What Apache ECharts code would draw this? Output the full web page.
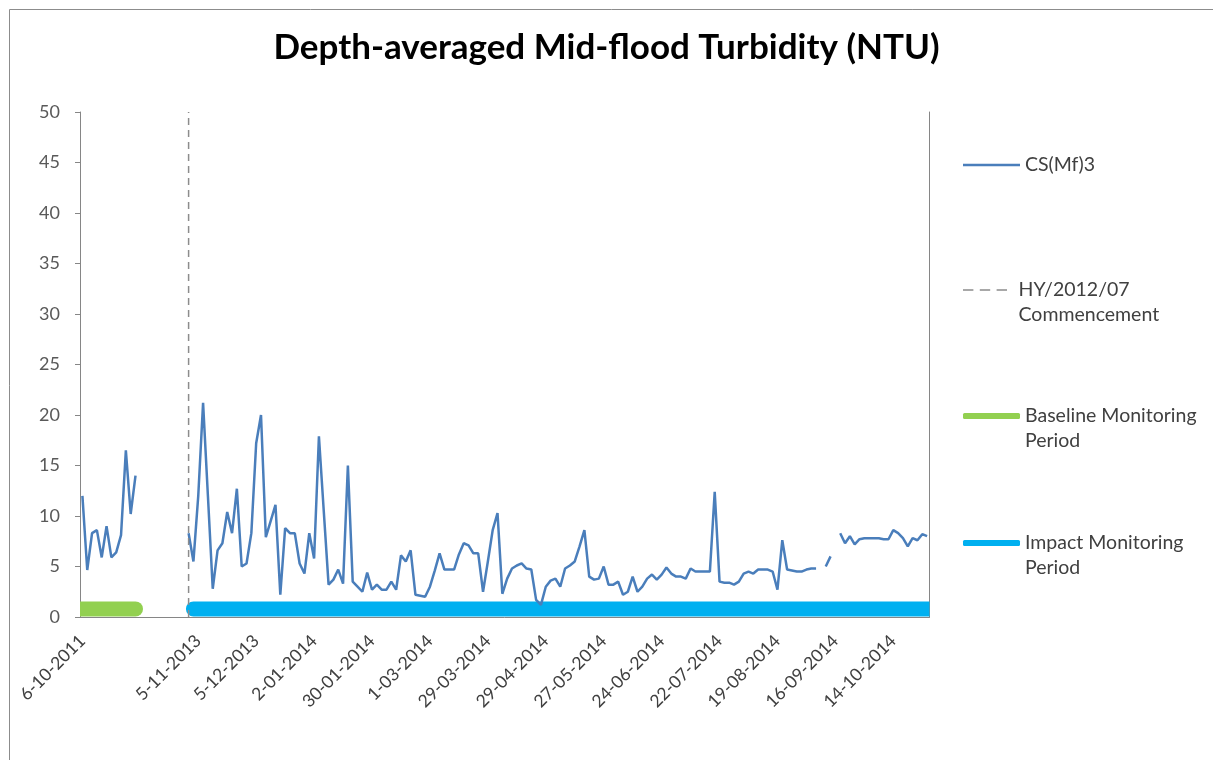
<!DOCTYPE html>
<html>
<head>
<meta charset="utf-8">
<script src="https://cdn.jsdelivr.net/npm/echarts@6/dist/echarts.min.js"></script>
<style>
html,body{margin:0;padding:0;background:#fff;}
#chart{width:1213px;height:760px;}
</style>
</head>
<body>
<div id="chart"></div>
<script>
// ---- data ----
var tickLabels = ['6-10-2011', '', '5-11-2013', '5-12-2013', '2-01-2014', '30-01-2014', '1-03-2014',
  '29-03-2014', '29-04-2014', '27-05-2014', '24-06-2014', '22-07-2014', '19-08-2014', '16-09-2014', '14-10-2014'];
var samplesPerTick = 12;
var categoryCount = 176;

var turbidity = [
  // baseline 0-11
  12.0, 4.65, 8.3, 8.6, 5.9, 9.0, 5.9, 6.4, 8.1, 16.5, 10.2, 14.0,
  // gap 12-21
  null, null, null, null, null, null, null, null, null, null,
  // impact 22-
  8.3, 5.5, 12.0, 21.2, 12.0, 2.8, 6.6, 7.3, 10.4, 8.3,
  12.7, 5.0, 5.3, 8.3, 17.2, 20.0, 7.9, 9.5, 11.1, 2.2,
  8.8, 8.3, 8.3, 5.3, 4.3, 8.3, 5.8, 17.9, 10.5, 3.2,
  3.7, 4.7, 3.3, 15.0, 3.5, 3.0, 2.5, 4.4, 2.7, 3.2,
  2.7, 2.7, 3.5, 2.7, 6.1, 5.5, 6.6, 2.2, 2.1, 2.0,
  3.0, 4.6, 6.3, 4.7, 4.7, 4.7, 6.2, 7.3, 7.1, 6.3,
  6.3, 2.5, 5.5, 8.6, 10.3, 2.3, 3.8, 4.8, 5.1, 5.3,
  4.8, 4.7, 1.7, 1.2, 3.0, 3.6, 3.8, 3.0, 4.8, 5.1,
  5.5, 7.0, 8.6, 4.0, 3.7, 3.8, 5.0, 3.2, 3.2, 3.5,
  2.2, 2.5, 4.0, 2.5, 3.0, 3.8, 4.2, 3.7, 4.2, 4.9,
  4.3, 4.0, 4.0, 3.8, 4.8, 4.5, 4.5, 4.5, 4.5, 12.4,
  3.5, 3.4, 3.4, 3.2, 3.5, 4.3, 4.5, 4.3, 4.7, 4.7,
  4.7, 4.5, 2.7, 7.6, 4.7, 4.6, 4.5, 4.5, 4.7, 4.8,
  4.8, null, 5.0, 6.0, null, 8.3, 7.3, 8.0, 7.2, 7.7,
  7.8, 7.8, 7.8, 7.8, 7.7, 7.7, 8.6, 8.3, 7.8, 7.0,
  7.8, 7.6, 8.2, 8.0
];

var commencementIndex = 22;
var baselinePeriod = [0, 11];
var impactPeriod = [23, 175];
var periodLevel = 0.8;
var yTicks = [0, 50, 5];

// ---- build ----
var categories = [];
for (var i = 0; i < categoryCount; i++) categories.push(String(i));

var FONT = 'Lato, "Open Sans", sans-serif';
var TXT = '#404040';
var chart = echarts.init(document.getElementById('chart'), null, {renderer: 'canvas'});

function legendBox(name, iconY, twoLine, icon, iconH) {
  var blockH = twoLine ? 75 : 25;
  return {
    data: [name],
    left: 963, top: iconY - blockH / 2,
    padding: 0,
    orient: 'vertical',
    itemWidth: 57, itemHeight: iconH,
    icon: icon,
    formatter: function (n) { return twoLine ? ' \n' + n : n; },
    textStyle: {fontFamily: FONT, fontSize: 19.5, color: TXT, lineHeight: 25}
  };
}

function periodRenderer(color) {
  return function (params, api) {
    var half = 7.5;
    var p0 = api.coord([api.value(0), api.value(2)]);
    var p1 = api.coord([api.value(1), api.value(2)]);
    var cs = params.coordSys;
    var x0 = p0[0] - half, x1 = p1[0] + half;
    var left = Math.max(x0, cs.x), right = Math.min(x1, cs.x + cs.width);
    var rl = x0 < cs.x ? 0 : half, rr = x1 > cs.x + cs.width ? 0 : half;
    return {
      type: 'rect',
      shape: {x: left, y: p0[1] - half, width: right - left, height: half * 2, r: [rl, rr, rr, rl]},
      style: {fill: color}
    };
  };
}

var option = {
  backgroundColor: '#fff',
  animation: false,
  title: {
    text: 'Depth-averaged Mid-flood Turbidity (NTU)',
    left: 'center', top: 25,
    textStyle: {fontFamily: FONT, fontSize: 35, fontWeight: 'bold', color: '#000'}
  },
  graphic: [{
    type: 'rect', left: 7, top: 7, shape: {width: 1230, height: 780},
    style: {fill: 'none', stroke: '#8c8c8c', lineWidth: 1}, silent: true, z: -1
  }],
  legend: [
    legendBox('CS(Mf)3', 165, false, 'rect', 2.5),
    legendBox('HY/2012/07\nCommencement', 290, true,
      'path://M0,0h13v2h-13z M21,0h13v2h-13z M42,0h13v2h-13z', 1.6),
    legendBox('Baseline Monitoring\nPeriod', 416, true, 'roundRect', 6),
    legendBox('Impact Monitoring\nPeriod', 543, true, 'roundRect', 6)
  ],
  grid: {left: 80, right: 283.5, top: 112, bottom: 143, containLabel: false},
  xAxis: {
    type: 'category',
    data: categories,
    boundaryGap: true,
    axisLine: {lineStyle: {color: '#868686', width: 1}},
    axisTick: {interval: samplesPerTick - 1, length: 5, lineStyle: {color: '#868686'}},
    axisLabel: {
      interval: samplesPerTick - 1, rotate: 45, margin: 21,
      fontFamily: FONT, fontSize: 17.5, color: TXT,
      formatter: function (v, idx) { return tickLabels[Math.round(idx / samplesPerTick)] || ''; }
    },
    splitLine: {show: false}
  },
  yAxis: [{
    type: 'value', min: yTicks[0], max: yTicks[1], interval: yTicks[2],
    axisLine: {show: true, lineStyle: {color: '#868686'}},
    axisTick: {show: true, length: 5, lineStyle: {color: '#868686'}},
    axisLabel: {fontFamily: FONT, fontSize: 18, color: '#595959', margin: 20},
    splitLine: {show: false}
  }, {
    type: 'value', min: yTicks[0], max: yTicks[1], interval: yTicks[2], position: 'right',
    axisLine: {show: true, lineStyle: {color: '#868686'}},
    axisTick: {show: false}, axisLabel: {show: false}, splitLine: {show: false}
  }],
  series: [{
    name: 'CS(Mf)3', type: 'line', data: turbidity,
    showSymbol: false, symbol: 'none', connectNulls: false,
    lineStyle: {color: '#4a7ebb', width: 2.5}, itemStyle: {color: '#4a7ebb'}
  }, {
    name: 'HY/2012/07\nCommencement', type: 'line', yAxisIndex: 1,
    data: [[commencementIndex, yTicks[0]], [commencementIndex, yTicks[1]]],
    symbol: 'none',
    lineStyle: {color: '#8c8c8c', width: 1.5, type: [7, 5]}, itemStyle: {color: '#8c8c8c'}
  }, {
    name: 'Baseline Monitoring\nPeriod', type: 'custom',
    renderItem: periodRenderer('#92d050'),
    encode: {x: [0, 1], y: 2},
    data: [[baselinePeriod[0], baselinePeriod[1], periodLevel]],
    itemStyle: {color: '#92d050'}
  }, {
    name: 'Impact Monitoring\nPeriod', type: 'custom',
    renderItem: periodRenderer('#00b0f0'),
    encode: {x: [0, 1], y: 2},
    data: [[impactPeriod[0], impactPeriod[1], periodLevel]],
    itemStyle: {color: '#00b0f0'}
  }]
};
chart.setOption(option);
</script>
</body>
</html>
